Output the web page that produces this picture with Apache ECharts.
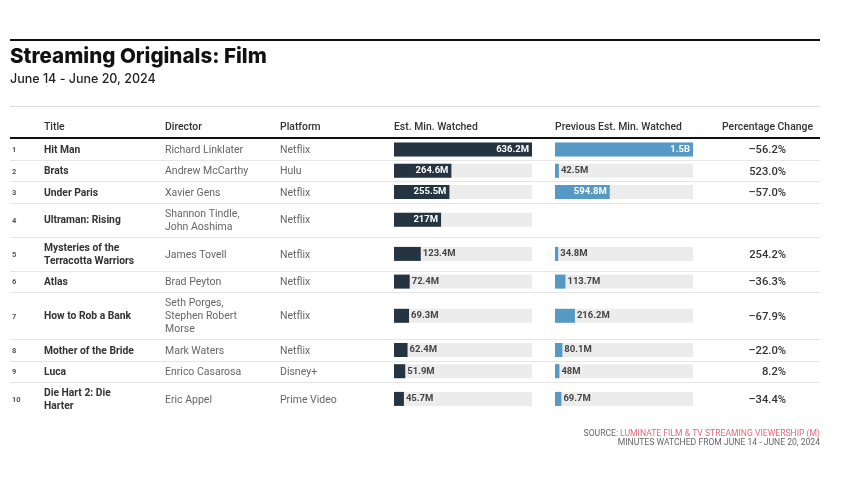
<!DOCTYPE html>
<html><head><meta charset="utf-8">
<script src="https://cdn.jsdelivr.net/npm/echarts@6/dist/echarts.min.js"></script>
<style>html,body{margin:0;padding:0;background:#fff}#c{width:850px;height:478px}</style>
</head><body><div id="c"></div>
<script>
const ranks = ['1','2','3','4','5','6','7','8','9','10'];
const titles = ['Hit Man','Brats','Under Paris','Ultraman: Rising','Mysteries of the\nTerracotta Warriors','Atlas','How to Rob a Bank','Mother of the Bride','Luca','Die Hart 2: Die\nHarter'];
const directors = ['Richard Linklater','Andrew McCarthy','Xavier Gens','Shannon Tindle,\nJohn Aoshima','James Tovell','Brad Peyton','Seth Porges,\nStephen Robert\nMorse','Mark Waters','Enrico Casarosa','Eric Appel'];
const platforms = ['Netflix','Hulu','Netflix','Netflix','Netflix','Netflix','Netflix','Netflix','Disney+','Prime Video'];
const estWatched = [636.2, 264.6, 255.5, 217, 123.4, 72.4, 69.3, 62.4, 51.9, 45.7];
const prevWatched = [1500, 42.5, 594.8, null, 34.8, 113.7, 216.2, 80.1, 48, 69.7];
const pctChange = ['–56.2%','523.0%','–57.0%','','254.2%','–36.3%','–67.9%','–22.0%','8.2%','–34.4%'];
const headers = ['Title','Director','Platform','Est. Min. Watched','Previous Est. Min. Watched','Percentage Change'];
const titleText = 'Streaming Originals: Film';
const subtitleText = 'June 14 - June 20, 2024';
const sourceLabel = 'SOURCE: ';
const sourceName = 'LUMINATE FILM & TV STREAMING VIEWERSHIP (M)';
const footNote = 'MINUTES WATCHED FROM JUNE 14 - JUNE 20, 2024';

const BODY = 'Roboto, sans-serif';
const L = 10, R = 820;
const colX = {rank: 12, title: 44, dir: 165, plat: 280, est: 394, prev: 555, pct: 722, pctRight: 786};
const barW = 138, barH = 14;
const DARK = '#253441', BLUE = '#5599c4', TRACK = '#ececec';

function fmt(v){ return v >= 1000 ? (Math.round(v/100)/10) + 'B' : v + 'M'; }

const chart = echarts.init(document.getElementById('c'), null, {renderer: 'canvas'});
const graphics = [];
const grids = [], xAxes = [], yAxes = [], series = [];

graphics.push({type:'rect', shape:{x:L, y:39, width:R-L, height:2}, style:{fill:'#111'}});
graphics.push({type:'text', x:L, y:57, style:{text:titleText, font:'800 20.6px Inter, sans-serif', fill:'#111', verticalAlign:'middle'}});
graphics.push({type:'text', x:L, y:79, style:{text:subtitleText, font:'500 12.5px Inter, sans-serif', fill:'#222', verticalAlign:'middle'}});
graphics.push({type:'rect', shape:{x:L, y:106, width:R-L, height:1}, style:{fill:'#dddddd'}});
const hx = [colX.title, colX.dir, colX.plat, colX.est, colX.prev, colX.pct];
headers.forEach((h,i)=>{
  graphics.push({type:'text', x:hx[i], y:127.5, style:{text:h, font:'500 10.4px '+BODY, fill:'#333', verticalAlign:'middle'}});
});
graphics.push({type:'rect', shape:{x:L, y:137, width:R-L, height:2}, style:{fill:'#111'}});

let y = 139;
const maxEst = Math.max(...estWatched);
const maxPrev = Math.max(...prevWatched.filter(v=>v!=null));
titles.forEach((t,i)=>{
  const lines = Math.max(t.split('\n').length, directors[i].split('\n').length);
  const h = 8.2 + 13*lines;
  const cy = y + h/2;
  const ty = cy + 1;
  const cellStyle = (txt, x, font, fill, align) => ({type:'text', x:x, y:ty, style:{text:txt, font:font, fill:fill, verticalAlign:'middle', align:align||'left', lineHeight:13}});
  graphics.push(cellStyle(ranks[i], colX.rank, '700 7.5px '+BODY, '#555'));
  graphics.push(cellStyle(t, colX.title, '700 10.3px '+BODY, '#333'));
  graphics.push(cellStyle(directors[i], colX.dir, '400 10.5px '+BODY, '#666'));
  graphics.push(cellStyle(platforms[i], colX.plat, '400 10.5px '+BODY, '#666'));
  graphics.push(cellStyle(pctChange[i], colX.pctRight, '500 11.2px '+BODY, '#333', 'right'));
  if (i < titles.length - 1) {
    graphics.push({type:'rect', shape:{x:L, y:Math.round(y+h), width:R-L, height:1}, style:{fill:'#e6e6e6'}});
  }
  [[estWatched[i], maxEst, colX.est, DARK],[prevWatched[i], maxPrev, colX.prev, BLUE]].forEach(([v,mx,x,col])=>{
    if (v == null) return;
    const gi = grids.length;
    grids.push({left:x, width:barW, top:cy - barH/2, height:barH, containLabel:false});
    xAxes.push({type:'value', gridIndex:gi, min:0, max:mx, show:false});
    yAxes.push({type:'category', gridIndex:gi, data:[titles[i]], show:false});
    const inside = v/mx > 0.3;
    series.push({type:'bar', xAxisIndex:gi, yAxisIndex:gi, barWidth:barH, silent:true,
      showBackground:true, backgroundStyle:{color:TRACK},
      itemStyle:{color:col},
      data:[{value:v, label:{show:true, position: inside?'insideRight':'right', distance: inside?3:2,
        formatter: fmt(v), color: inside?'#fff':'#444', fontWeight:'bold', fontSize:9.5, fontFamily:BODY}}]
    });
  });
  y += h;
});

graphics.push({type:'text', x:R, y:433.5, style:{
  text:'{g|'+sourceLabel+'}{p|'+sourceName+'}', align:'right', verticalAlign:'middle',
  rich:{g:{fill:'#666', font:'400 8.6px '+BODY}, p:{fill:'#e8677f', font:'400 8.6px '+BODY}}}});
graphics.push({type:'text', x:R, y:442.5, style:{text:footNote, align:'right', verticalAlign:'middle', fill:'#666', font:'400 8.6px '+BODY}});

chart.setOption({animation:false, grid:grids, xAxis:xAxes, yAxis:yAxes, series:series, graphic:{elements:graphics}});
</script></body></html>
